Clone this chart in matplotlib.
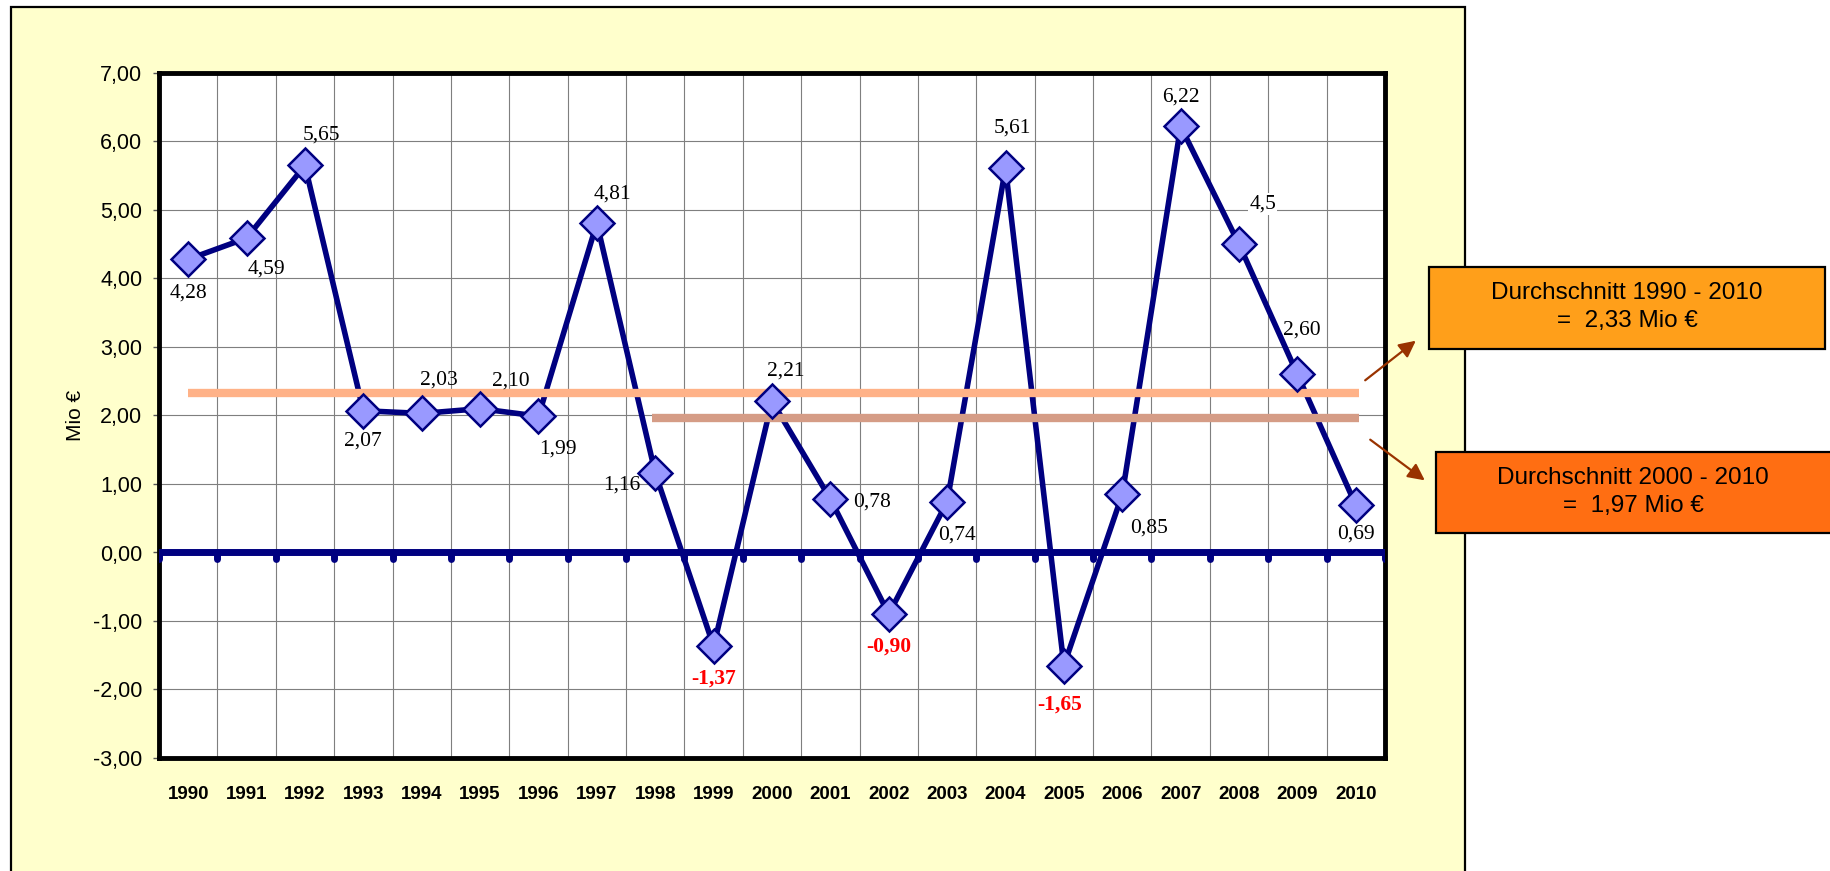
import matplotlib
matplotlib.use("Agg")
import matplotlib.pyplot as plt
from matplotlib.patches import Rectangle, FancyArrowPatch
import numpy as np

years = list(range(1990, 2011))
values = [4.28, 4.59, 5.65, 2.07, 2.03, 2.10, 1.99, 4.81, 1.16, -1.37, 2.21,
          0.78, -0.90, 0.74, 5.61, -1.65, 0.85, 6.22, 4.5, 2.60, 0.69]
value_labels = ["4,28", "4,59", "5,65", "2,07", "2,03", "2,10", "1,99", "4,81",
                "1,16", "-1,37", "2,21", "0,78", "-0,90", "0,74", "5,61", "-1,65",
                "0,85", "6,22", "4,5", "2,60", "0,69"]
# label offsets in points (dx, dy) relative to each marker
label_offsets = [(0, -24), (14, -22), (12, 22), (0, -22), (12, 24), (22, 20),
                 (14, -24), (11, 21), (-24, -9), (0, -23), (10, 22), (30, -2),
                 (0, -23), (7, -24), (5, 29), (-3, -28), (19, -24), (0, 21),
                 (17, 29), (3, 32), (0, -21)]

avg_all = 2.33
avg_recent = 1.97
avg_all_text = "Durchschnitt 1990 - 2010\n=  2,33 Mio €"
avg_recent_text = "Durchschnitt 2000 - 2010\n=  1,97 Mio €"

W, H = 1830, 871
fig = plt.figure(figsize=(W / 100, H / 100), dpi=100)
fig.patch.set_facecolor("white")

# yellow chart panel
fig.patches.append(Rectangle((11 / W, -0.05), (1465 - 11) / W, 1 - 7 / H + 0.05,
                             transform=fig.transFigure, facecolor="#FFFFCC",
                             edgecolor="black", linewidth=1.6, zorder=-1))

ax = fig.add_axes([159 / W, 1 - 758 / H, (1385 - 159) / W, (758 - 73) / H])
ax.set_zorder(1)
ax.set_facecolor("white")
x = np.arange(len(years))
ax.set_xlim(-0.5, len(years) - 0.5)
ax.set_ylim(-3, 7)

# grid
ax.set_yticks(np.arange(-3, 8, 1))
ax.set_yticklabels([f"{v:.2f}".replace(".", ",") for v in np.arange(-3, 8, 1)],
                   fontsize=15.5, family="Liberation Sans")
ax.set_xticks(x)
ax.set_xticklabels([str(y) for y in years], fontsize=13.5, fontweight="bold",
                   family="Liberation Sans")
ax.set_xticks(np.arange(-0.5, len(years), 1), minor=True)
ax.tick_params(axis="x", which="both", length=0, pad=20)
ax.tick_params(axis="y", length=4, width=1, color="#555555", pad=8, direction="out")
ax.grid(True, axis="y", color="#7f7f7f", linewidth=0.8, zorder=1)
ax.grid(True, axis="x", which="minor", color="#7f7f7f", linewidth=0.8, zorder=1)
ax.set_axisbelow(True)
for sp in ax.spines.values():
    sp.set_linewidth(3.5)
    sp.set_color("black")

ax.set_ylabel("Mio €", fontsize=15, family="Liberation Sans", labelpad=6)

# zero line with tick marks
ax.axhline(0, color="#000080", linewidth=5, zorder=3)
ticks = ax.vlines(np.arange(-0.5, len(years), 1), -0.09, 0, color="#000080",
                  linewidth=5, zorder=3)
ticks.set_capstyle("round")

# data line
ax.plot(x, values, color="#000080", linewidth=4, zorder=4, solid_joinstyle="round")

# average bars
ax.plot([0, 20.05], [avg_all, avg_all], color="#FFB288", linewidth=6,
        solid_capstyle="butt", zorder=5)
ax.plot([7.95, 20.05], [avg_recent, avg_recent], color="#D59C86", linewidth=6,
        solid_capstyle="butt", zorder=5)

ax.plot(x, values, linestyle="none", marker="D", markersize=17,
        markerfacecolor="#9999FF", markeredgecolor="#000080", markeredgewidth=1.8,
        zorder=6)

for xi, v, lab, (dx, dy) in zip(x, values, value_labels, label_offsets):
    neg = v < 0
    kw = dict(fontsize=15.5, family="Liberation Serif", ha="center", va="center",
              color="red" if neg else "black",
              fontweight="bold" if neg else "normal", zorder=7)
    if lab == "4,5":
        kw["bbox"] = dict(facecolor="white", edgecolor="none", pad=1)
    ax.annotate(lab, (xi, v), xytext=(dx, dy), textcoords="offset points", **kw)

# text boxes
box1 = Rectangle((1429 / W, 1 - 349 / H), 396 / W, 82 / H, transform=fig.transFigure,
                 facecolor="#FF9F1A", edgecolor="black", linewidth=1.6, zorder=10)
box2 = Rectangle((1436 / W, 1 - 533 / H), 400 / W, 81 / H, transform=fig.transFigure,
                 facecolor="#FF6E12", edgecolor="black", linewidth=1.6, zorder=10)
fig.patches.extend([box1, box2])
fig.text(1627 / W, 1 - 307 / H, avg_all_text, ha="center", va="center",
         fontsize=17.5, family="Liberation Sans", linespacing=1.35, zorder=11)
fig.text(1633 / W, 1 - 492 / H, avg_recent_text, ha="center", va="center",
         fontsize=17.5, family="Liberation Sans", linespacing=1.35, zorder=11)

# arrows
for (x0, y0), (x1, y1) in [((1363, 382), (1418, 339)), ((1368, 438), (1427, 482))]:
    fig.patches.append(FancyArrowPatch((x0 / W, 1 - y0 / H), (x1 / W, 1 - y1 / H),
                                       transform=fig.transFigure, color="#993300",
                                       arrowstyle="-|>,head_length=10,head_width=5",
                                       linewidth=1.6, zorder=12))

fig.savefig("out.png", dpi=100)
